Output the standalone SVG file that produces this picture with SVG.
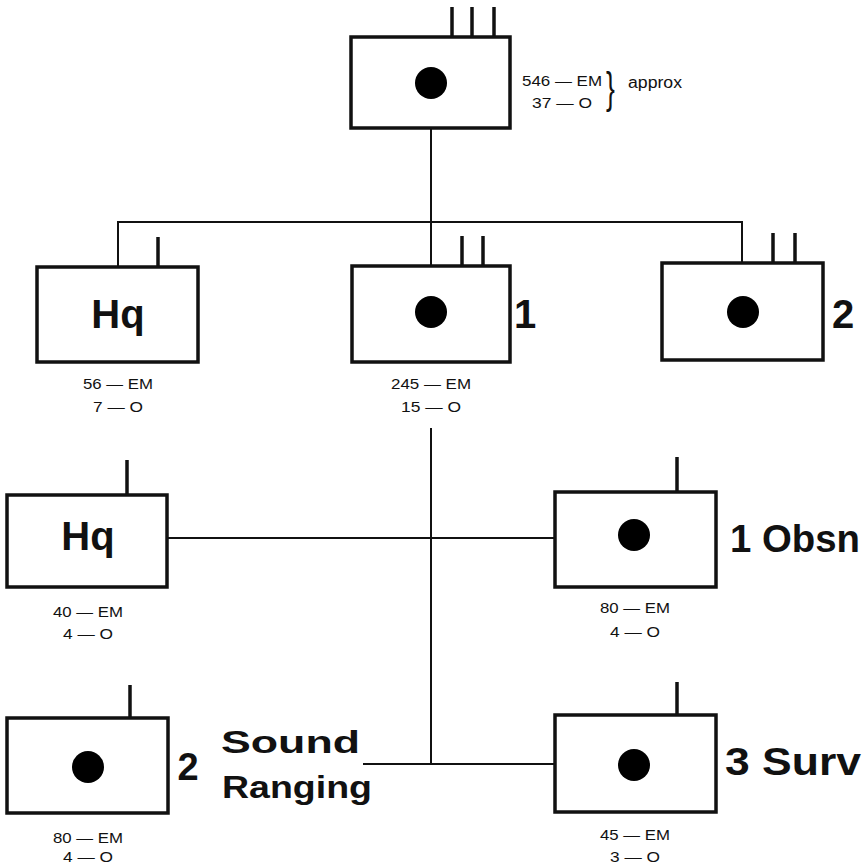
<svg xmlns="http://www.w3.org/2000/svg" width="862" height="867" viewBox="0 0 862 867">
<style>
.box{fill:#fff;stroke:#111;stroke-width:3.5}
.ant{stroke:#111;stroke-width:3.5;fill:none}
.con{stroke:#111;stroke-width:2;fill:none}
.dot{fill:#000}
.big{font-family:"Liberation Sans",Arial,sans-serif;font-weight:bold;fill:#111}
.sm{font-family:"Liberation Sans",Arial,sans-serif;font-size:15px;fill:#111;text-anchor:middle}
</style>
<rect width="862" height="867" fill="#fff"/>
<g id="connectors">
<line class="con" x1="431" y1="128" x2="431" y2="267"/>
<polyline class="con" points="118,267 118,222 742,222 742,263"/>
<line class="con" x1="431" y1="428" x2="431" y2="764"/>
<line class="con" x1="167" y1="538" x2="555" y2="538"/>
<line class="con" x1="363" y1="764" x2="555" y2="764"/>
</g>
<g id="n-top">
<line class="ant" x1="452" y1="7" x2="452" y2="37"/>
<line class="ant" x1="472" y1="7" x2="472" y2="37"/>
<line class="ant" x1="494" y1="7" x2="494" y2="37"/>
<rect class="box" x="351" y="37" width="159" height="91"/>
<circle class="dot" cx="431" cy="83" r="16"/>
<text class="sm" x="562" y="86" textLength="80" lengthAdjust="spacingAndGlyphs">546 — EM</text>
<text class="sm" x="562" y="108" textLength="60" lengthAdjust="spacingAndGlyphs">37 — O</text>
<text x="606" y="103" font-family="Liberation Sans,Arial,sans-serif" font-size="44" font-weight="300" fill="#111" transform="translate(606 90) scale(0.6 1) translate(-606 -90)">}</text>
<text x="628" y="88" font-family="Liberation Sans,Arial,sans-serif" font-size="16" fill="#111" textLength="54" lengthAdjust="spacingAndGlyphs">approx</text>
</g>
<g id="n-hq1">
<line class="ant" x1="158" y1="237" x2="158" y2="267"/>
<rect class="box" x="37" y="267" width="161" height="95"/>
<text class="big" x="118" y="328" font-size="40" text-anchor="middle">Hq</text>
<text class="sm" x="118" y="389" textLength="70" lengthAdjust="spacingAndGlyphs">56 — EM</text>
<text class="sm" x="118" y="412" textLength="50" lengthAdjust="spacingAndGlyphs">7 — O</text>
</g>
<g id="n-1">
<line class="ant" x1="462" y1="236" x2="462" y2="266"/>
<line class="ant" x1="483" y1="236" x2="483" y2="266"/>
<rect class="box" x="352" y="266" width="158" height="96"/>
<circle class="dot" cx="431" cy="312" r="16"/>
<text class="big" x="525" y="328" font-size="40" text-anchor="middle">1</text>
<text class="sm" x="431" y="389" textLength="80" lengthAdjust="spacingAndGlyphs">245 — EM</text>
<text class="sm" x="431" y="412" textLength="60" lengthAdjust="spacingAndGlyphs">15 — O</text>
</g>
<g id="n-2">
<line class="ant" x1="773" y1="233" x2="773" y2="263"/>
<line class="ant" x1="795" y1="233" x2="795" y2="263"/>
<rect class="box" x="662" y="263" width="161" height="97"/>
<circle class="dot" cx="743" cy="312" r="16"/>
<text class="big" x="843" y="328" font-size="40" text-anchor="middle">2</text>
</g>
<g id="n-hq2">
<line class="ant" x1="127" y1="460" x2="127" y2="495"/>
<rect class="box" x="7" y="495" width="160" height="92"/>
<text class="big" x="88" y="550" font-size="40" text-anchor="middle">Hq</text>
<text class="sm" x="88" y="617" textLength="70" lengthAdjust="spacingAndGlyphs">40 — EM</text>
<text class="sm" x="88" y="639" textLength="50" lengthAdjust="spacingAndGlyphs">4 — O</text>
</g>
<g id="n-obsn">
<line class="ant" x1="677" y1="457" x2="677" y2="492"/>
<rect class="box" x="555" y="492" width="161" height="95"/>
<circle class="dot" cx="634" cy="535" r="16"/>
<text class="big" x="730" y="552" font-size="38" textLength="130" lengthAdjust="spacingAndGlyphs">1 Obsn</text>
<text class="sm" x="635" y="613" textLength="70" lengthAdjust="spacingAndGlyphs">80 — EM</text>
<text class="sm" x="635" y="637" textLength="50" lengthAdjust="spacingAndGlyphs">4 — O</text>
</g>
<g id="n-sound">
<line class="ant" x1="130" y1="685" x2="130" y2="718"/>
<rect class="box" x="7" y="718" width="161" height="95"/>
<circle class="dot" cx="88" cy="767" r="16"/>
<text class="big" x="188" y="780" font-size="38" text-anchor="middle">2</text>
<text class="big" x="221" y="753" font-size="31" textLength="139" lengthAdjust="spacingAndGlyphs">Sound</text>
<text class="big" x="222" y="798" font-size="31" textLength="150" lengthAdjust="spacingAndGlyphs">Ranging</text>
<text class="sm" x="88" y="843" textLength="70" lengthAdjust="spacingAndGlyphs">80 — EM</text>
<text class="sm" x="88" y="862" textLength="50" lengthAdjust="spacingAndGlyphs">4 — O</text>
</g>
<g id="n-surv">
<line class="ant" x1="677" y1="682" x2="677" y2="715"/>
<rect class="box" x="555" y="715" width="161" height="97"/>
<circle class="dot" cx="634" cy="765" r="16"/>
<text class="big" x="725" y="775" font-size="38" textLength="136" lengthAdjust="spacingAndGlyphs">3 Surv</text>
<text class="sm" x="635" y="840" textLength="70" lengthAdjust="spacingAndGlyphs">45 — EM</text>
<text class="sm" x="635" y="862" textLength="50" lengthAdjust="spacingAndGlyphs">3 — O</text>
</g>
</svg>
